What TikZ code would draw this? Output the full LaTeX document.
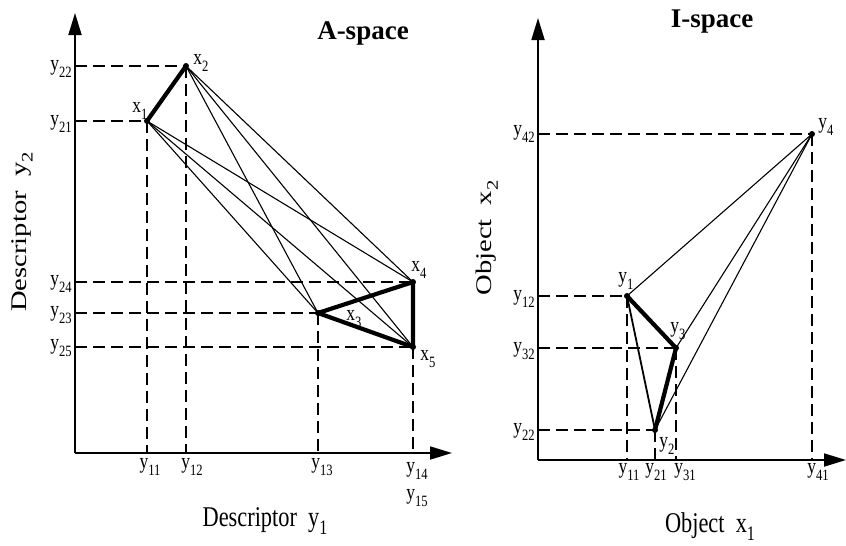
\documentclass[tikz,border=0pt]{standalone}
\usepackage{fontspec}
\setmainfont{Liberation Serif}
\usepackage{graphicx}
\usetikzlibrary{arrows.meta}
\newcommand\sub[1]{\raisebox{-0.28em}{\scalebox{0.72}{#1}}}
\tikzset{
  axisline/.style={line width=1.8pt,-{Triangle[length=22pt,width=13pt]}},
  dashline/.style={line width=1.6pt,dash pattern=on 12pt off 6pt},
  thinline/.style={line width=1.1pt},
  medline/.style={line width=1.8pt},
  thickline/.style={line width=4.2pt,line cap=round,line join=round},
  pt/.style={circle,fill=black,inner sep=0pt,minimum size=6pt},
  lab/.style={inner sep=0pt,font=\fontsize{19}{19}\selectfont,xscale=0.92,yscale=1.15},
  big/.style={inner sep=0pt,font=\fontsize{26}{26}\selectfont,xscale=0.86,yscale=1.1},
  ttl/.style={inner sep=0pt,font=\fontsize{27}{27}\selectfont\bfseries},
}
\begin{document}
\begin{tikzpicture}[x=1pt,y=-1pt]
\useasboundingbox (0,0) rectangle (846,546);
% ---------------- A-space ----------------
\coordinate (Ao) at (75,453);
\coordinate (Ay) at (75,13);
\coordinate (Ax) at (452,453);
\draw[axisline] (Ao) -- (Ay);
\draw[axisline] (Ao) -- (Ax);
\node[pt] (x1) at (147,121) {};
\node[pt] (x2) at (186,66) {};
\node[pt] (x3) at (318,313) {};
\node[pt] (x4) at (413,282) {};
\node[pt] (x5) at (413,347) {};
% axis feet
\coordinate (h22) at (75,66);
\coordinate (h21) at (75,121);
\coordinate (h24) at (75,282);
\coordinate (h23) at (75,313);
\coordinate (h25) at (75,347);
\coordinate (v11) at (147,453);
\coordinate (v12) at (186,453);
\coordinate (v13) at (318,453);
\coordinate (v14) at (413,453);
\draw[dashline] (h22) -- (x2.center);
\draw[dashline] (h21) -- (x1.center);
\draw[dashline] (h24) -- (x4.center);
\draw[dashline] (h23) -- (x3.center);
\draw[dashline] (h25) -- (x5.center);
\draw[dashline] (x1.center) -- (v11);
\draw[dashline] (x2.center) -- (v12);
\draw[dashline] (x3.center) -- (v13);
\draw[dashline] (x5.center) -- (v14);
% thin connections
\foreach \a in {x1,x2}{
  \foreach \b in {x3,x4,x5}{
    \draw[thinline] (\a.center) -- (\b.center);
  }
}
\draw[thickline] (x1.center) -- (x2.center);
\draw[thickline] (x3.center) -- (x4.center) -- (x5.center) -- cycle;
% point labels
\node[lab] (lx1) at (140,111) {x\sub{1}};
\node[lab] (lx2) at (201,63) {x\sub{2}};
\node[lab] (lx3) at (354,319) {x\sub{3}};
\node[lab] (lx4) at (419,270) {x\sub{4}};
\node[lab] (lx5) at (428,359) {x\sub{5}};
% axis labels
\node[lab] (l22) at (61,69) {y\sub{22}};
\node[lab] (l21) at (61,124) {y\sub{21}};
\node[lab] (l24) at (61,284) {y\sub{24}};
\node[lab] (l23) at (61,315) {y\sub{23}};
\node[lab] (l25) at (61,348) {y\sub{25}};
\node[lab] (l11) at (150,467) {y\sub{11}};
\node[lab] (l12) at (192,467) {y\sub{12}};
\node[lab] (l13) at (322,467) {y\sub{13}};
\node[lab] (l14) at (417,471) {y\sub{14}};
\node[lab] (l15) at (417,498) {y\sub{15}};
\node[big] (d1) at (265,521) {Descriptor\ \ y\sub{1}};
\node[big,rotate=90] (d2) at (22,232) {Descriptor\ \ y\sub{2}};
\node[ttl] (ta) at (363,33) {A-space};
% ---------------- I-space ----------------
\coordinate (Io) at (538,460);
\coordinate (Iy) at (538,18);
\coordinate (Ix) at (846,460);
\draw[axisline] (Io) -- (Iy);
\draw[axisline] (Io) -- (Ix);
\node[pt] (y1) at (627,296) {};
\node[pt] (y2) at (655,430) {};
\node[pt] (y3) at (676,348) {};
\node[pt] (y4) at (812,134) {};
\coordinate (k42) at (538,134);
\coordinate (k12) at (538,296);
\coordinate (k32) at (538,348);
\coordinate (k22) at (538,430);
\coordinate (w11) at (627,460);
\coordinate (w21) at (655,460);
\coordinate (w31) at (676,460);
\coordinate (w41) at (812,460);
\draw[dashline] (k42) -- (y4.center);
\draw[dashline] (k12) -- (y1.center);
\draw[dashline] (k32) -- (y3.center);
\draw[dashline] (k22) -- (y2.center);
\draw[dashline] (y4.center) -- (w41);
\draw[dashline] (y1.center) -- (w11);
\draw[dashline] (y3.center) -- (w31);
\draw[dashline] (y2.center) -- (w21);
\draw[thinline] (y4.center) -- (y1.center);
\draw[thinline] (y4.center) -- (y3.center);
\draw[thinline] (y4.center) -- (y2.center);
\draw[medline] (y1.center) -- (y2.center);
\draw[thickline] (y1.center) -- (y3.center) -- (y2.center);
\node[lab] (ly1) at (626,281) {y\sub{1}};
\node[lab] (ly3) at (678,331) {y\sub{3}};
\node[lab] (ly2) at (667,446) {y\sub{2}};
\node[lab] (ly4) at (826,127) {y\sub{4}};
\node[lab] (m42) at (524,134) {y\sub{42}};
\node[lab] (m12) at (524,299) {y\sub{12}};
\node[lab] (m32) at (524,351) {y\sub{32}};
\node[lab] (m22) at (524,432) {y\sub{22}};
\node[lab] (n11) at (629,472) {y\sub{11}};
\node[lab] (n21) at (656,472) {y\sub{21}};
\node[lab] (n31) at (685,472) {y\sub{31}};
\node[lab] (n41) at (818,472) {y\sub{41}};
\node[big] (o1) at (710,527) {Object\ \ x\sub{1}};
\node[big,rotate=90] (o2) at (487,238) {Object\ \ x\sub{2}};
\node[ttl] (ti) at (712,22) {I-space};
\end{tikzpicture}
\end{document}
